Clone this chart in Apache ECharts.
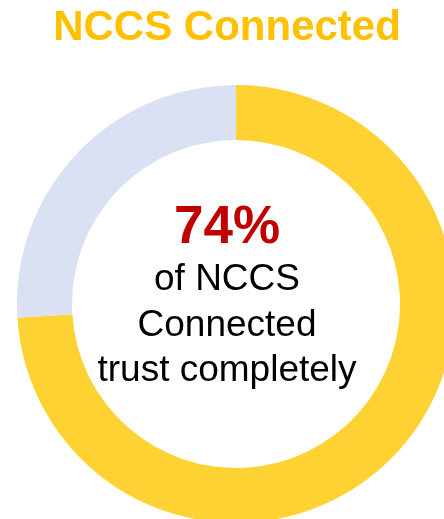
<!DOCTYPE html>
<html>
<head>
<meta charset="utf-8">
<script src="https://cdn.jsdelivr.net/npm/echarts@6/dist/echarts.min.js"></script>
<style>
  html, body { margin: 0; padding: 0; background: #ffffff; }
  #chart { width: 444px; height: 519px; }
</style>
</head>
<body>
<div id="chart"></div>
<script>
// Share of NCCS Connected respondents by trust level
const categories = ['Trust completely', 'Other'];
const values = [74, 26];
const sliceColors = ['#FFD233', '#D9E1F2'];
const titleText = 'NCCS Connected';
const headline = values[0] + '%';
const captionLines = ['of NCCS', 'Connected', 'trust completely'];

const chart = echarts.init(document.getElementById('chart'), null, { renderer: 'canvas' });

const font = '"Liberation Sans", Arial, Helvetica, sans-serif';

const captionTexts = captionLines.map((line, i) => ({
  type: 'text',
  style: {
    text: line,
    x: 227,
    y: 280 + i * 45.5,
    fill: '#000000',
    font: '37px ' + font,
    textAlign: 'center',
    textVerticalAlign: 'middle'
  },
  silent: true
}));

chart.setOption({
  animation: false,
  backgroundColor: '#ffffff',
  graphic: [
    {
      type: 'text',
      style: {
        text: titleText,
        x: 227,
        y: 28,
        fill: '#FFC000',
        font: 'bold 42px ' + font,
        textAlign: 'center',
        textVerticalAlign: 'middle'
      },
      silent: true
    },
    {
      type: 'text',
      style: {
        text: headline,
        x: 227,
        y: 228,
        fill: '#C00000',
        font: 'bold 53px ' + font,
        textAlign: 'center',
        textVerticalAlign: 'middle'
      },
      silent: true
    }
  ].concat(captionTexts),
  series: [{
    type: 'pie',
    center: [236, 304],
    radius: [164, 219],
    startAngle: 90,
    clockwise: true,
    silent: true,
    label: { show: false },
    labelLine: { show: false },
    itemStyle: { borderWidth: 0 },
    data: categories.map((name, i) => ({
      name: name,
      value: values[i],
      itemStyle: { color: sliceColors[i] }
    }))
  }]
});
</script>
</body>
</html>
